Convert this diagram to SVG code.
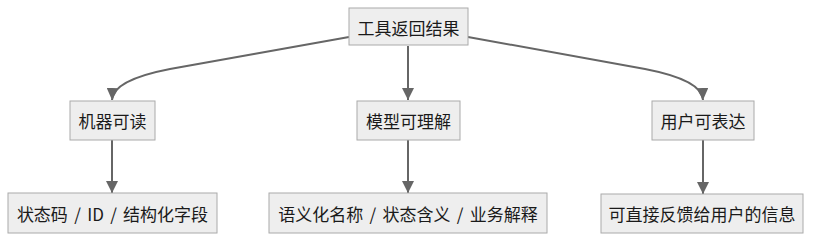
<svg xmlns="http://www.w3.org/2000/svg" width="814" height="241" viewBox="0 0 814 241">
<style>
.box{fill:#eeeeee;stroke:#aaaaaa;stroke-width:1}
.t{font-family:"Noto Sans CJK SC","Noto Sans",sans-serif;font-size:17px;fill:#1a1a1a;text-anchor:middle;dominant-baseline:central}
.w{word-spacing:2.5px}
.e{fill:none;stroke:#666666;stroke-width:2}
</style>
<defs>
<marker id="ah" viewBox="0 0 10 10" refX="10" refY="5" markerWidth="6" markerHeight="6" markerUnits="strokeWidth" orient="auto">
<path d="M0,0 L10,5 L0,10 z" fill="#666666"/>
</marker>
</defs>
<g id="edges">
<path class="e" d="M349,37 L170,69 Q113,80 112,100" marker-end="url(#ah)"/>
<path class="e" d="M408,46 L408,100" marker-end="url(#ah)"/>
<path class="e" d="M468,37 L645,69 Q702,80 703,100" marker-end="url(#ah)"/>
<path class="e" d="M112,140 L112,193" marker-end="url(#ah)"/>
<path class="e" d="M408,140 L408,193" marker-end="url(#ah)"/>
<path class="e" d="M703,140 L703,194" marker-end="url(#ah)"/>
</g>
<g id="n0"><rect class="box" x="349" y="8" width="119" height="37"/><text class="t" x="408.5" y="27">工具返回结果</text></g>
<g id="n1"><rect class="box" x="70" y="101" width="85" height="39"/><text class="t" x="112.5" y="120.5">机器可读</text></g>
<g id="n2"><rect class="box" x="357" y="101" width="103" height="39"/><text class="t" x="408.5" y="120.5">模型可理解</text></g>
<g id="n3"><rect class="box" x="652" y="101" width="102" height="39"/><text class="t" x="703" y="120.5">用户可表达</text></g>
<g id="n4"><rect class="box" x="8" y="193" width="209" height="40"/><text class="t w" x="112.5" y="213">状态码 / ID / 结构化字段</text></g>
<g id="n5"><rect class="box" x="269" y="193" width="278" height="40"/><text class="t w" x="408" y="213">语义化名称 / 状态含义 / 业务解释</text></g>
<g id="n6"><rect class="box" x="601" y="194" width="202" height="39"/><text class="t" x="702" y="213.5">可直接反馈给用户的信息</text></g>
</svg>
